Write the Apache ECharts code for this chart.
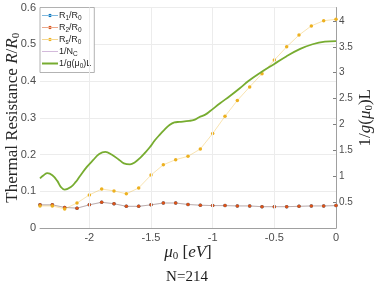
<!DOCTYPE html>
<html><head><meta charset="utf-8">
<script src="https://cdn.jsdelivr.net/npm/echarts@6/dist/echarts.min.js"></script>
<style>html,body{margin:0;padding:0;background:#fff}#c{width:374px;height:283px}</style>
</head><body><div id="c"></div>
<script>
// ---- data ----
const mu = [-2.4,-2.3,-2.2,-2.1,-2.0,-1.9,-1.8,-1.7,-1.6,-1.5,-1.4,-1.3,-1.2,-1.1,-1.0,-0.9,-0.8,-0.7,-0.6,-0.5,-0.4,-0.3,-0.2,-0.1,0];
const r2 = [0.063,0.063,0.056,0.054,0.063,0.070,0.066,0.059,0.059,0.063,0.068,0.068,0.064,0.062,0.061,0.061,0.060,0.060,0.058,0.058,0.058,0.059,0.060,0.060,0.061];
const r1 = [0.063,0.063,0.056,0.054,0.063,0.070,0.066,0.059,0.059,0.063,0.068,0.068,0.064,0.062,0.061,0.061,0.060,0.060,0.058,0.058,0.058,0.059,0.060,0.060,0.061];
const rs = [0.060,0.060,0.052,0.068,0.090,0.106,0.101,0.093,0.109,0.144,0.172,0.186,0.195,0.215,0.257,0.304,0.347,0.384,0.420,0.457,0.493,0.525,0.550,0.564,0.568];
const nc = [];
const gMu = [-2.4,-2.37,-2.34,-2.30,-2.26,-2.23,-2.20,-2.15,-2.11,-2.08,-2.02,-1.97,-1.92,-1.87,-1.82,-1.76,-1.72,-1.67,-1.63,-1.59,-1.55,-1.51,-1.47,-1.43,-1.39,-1.35,-1.31,-1.27,-1.19,-1.15,-1.11,-1.06,-1.02,-0.94,-0.86,-0.78,-0.71,-0.62,-0.50,-0.40,-0.29,-0.19,-0.09,0];
const gVal = [0.96,1.02,1.06,1.02,0.91,0.79,0.74,0.79,0.89,0.99,1.18,1.31,1.43,1.47,1.42,1.32,1.25,1.23,1.27,1.35,1.45,1.56,1.69,1.80,1.90,1.99,2.04,2.05,2.07,2.09,2.14,2.19,2.26,2.41,2.55,2.70,2.84,2.99,3.17,3.32,3.46,3.55,3.60,3.61];
const xTicks = [-2,-1.5,-1,-0.5,0];
const xGrid = [-2,-1.5,-1,-0.5];
const rightTicks = [0.5,1,1.5,2,2.5,3,3.5,4];

const pair = (xs, ys) => xs.map((x,i)=>[x, ys[i]]);
const sans = 'Liberation Sans';
const serif = 'Liberation Serif';
const subRich = {
  n:{fontFamily:sans,fontSize:9,color:'#262626'},
  s:{fontFamily:sans,fontSize:6.5,color:'#262626',verticalAlign:'bottom',padding:[5,0,0,0]}
};
const legNames = {
  'R1':'{n|R}{s|1}{n|/R}{s|0}',
  'R2':'{n|R}{s|2}{n|/R}{s|0}',
  'Rs':'{n|R}{s|s}{n|/R}{s|0}',
  'NC':'{n|1/N}{s|C}',
  'G':'{n|1/g(μ}{s|0}{n|)L}'
};
const iconDot = 'path://M0,0M16,10M0,4.7H16V5.3H0Z M6.3,5a1.7,1.7 0 1,0 3.4,0a1.7,1.7 0 1,0 -3.4,0Z';
const iconLine = 'path://M0,0M16,10M0,4.6H16V5.4H0Z';
const iconThick = 'path://M0,0M16,10M0,4H16V6H0Z';
const titleRich = {
  n:{fontFamily:serif,fontSize:17,color:'#262626'},
  i:{fontFamily:serif,fontStyle:'italic',fontSize:17,color:'#262626'},
  s:{fontFamily:serif,fontSize:11,color:'#262626',verticalAlign:'bottom',padding:[7,0,0,0]}
};

const chart = echarts.init(document.getElementById('c'), null, {renderer:'canvas'});
chart.setOption({
  animation:false,
  backgroundColor:'#fff',
  grid:{left:40,right:38,top:7.5,bottom:55,containLabel:false,outerBoundsMode:'none'},
  legend:{
    left:40, top:7.5, orient:'vertical', itemGap:1, itemWidth:16, itemHeight:10,
    backgroundColor:'#fff', borderColor:'#a0a0a0', borderWidth:0.8, borderRadius:0,
    padding:[3,3,3,2],
    data:[
      {name:'R1',icon:iconDot,itemStyle:{color:'#0072BD'}},
      {name:'R2',icon:iconDot,itemStyle:{color:'#D95319'}},
      {name:'Rs',icon:iconDot,itemStyle:{color:'#EDB120'}},
      {name:'NC',icon:iconLine,itemStyle:{color:'#c9a9d2'}},
      {name:'G',icon:iconThick,itemStyle:{color:'#77AC30'}}
    ],
    formatter: n => legNames[n],
    textStyle:{rich:subRich, padding:[0,0,0,-4]}
  },
  xAxis:[{
    type:'value', min:-2.4, max:0,
    axisLine:{show:false}, axisTick:{show:false}, splitLine:{show:false},
    axisLabel:{customValues:xTicks, fontFamily:sans, fontSize:11, color:'#4d4d4d', margin:4},
    name:'{i|μ}{s|0}{n| [}{i|eV}{n|]}',
    nameLocation:'middle', nameGap:16, nameMoveOverlap:false,
    nameTextStyle:{rich:titleRich}
  },{
    type:'value', min:-2.4, max:0, position:'top',
    axisLine:{show:true,lineStyle:{color:'#a0a0a0',width:1}},
    axisTick:{show:false}, axisLabel:{show:false}, splitLine:{show:false}
  }],
  yAxis:[{
    type:'value', min:0, max:0.6, interval:0.1,
    axisLine:{show:true,lineStyle:{color:'#a0a0a0',width:1}},
    axisTick:{show:false},
    splitLine:{show:true,lineStyle:{color:'#ececec',width:1}},
    axisLabel:{fontFamily:sans,fontSize:11,color:'#4d4d4d',margin:4},
    name:'{n|Thermal Resistance }{i|R}{n|/}{i|R}{s|0}',
    nameLocation:'middle', nameGap:18.5, nameRotate:90, nameMoveOverlap:false,
    nameTextStyle:{rich:titleRich}
  },{
    type:'value', min:0, max:4.26, position:'right',
    axisLine:{show:false},
    axisTick:{show:true,inside:true,length:3,customValues:rightTicks,lineStyle:{color:'#808080'}},
    splitLine:{show:false},
    axisLabel:{customValues:rightTicks,fontFamily:sans,fontSize:10,color:'#4d4d4d',margin:3},
    name:'{n|1/}{i|g}{n|(}{i|μ}{s|0}{n|)L}',
    nameLocation:'middle', nameGap:21, nameRotate:90, nameMoveOverlap:false,
    nameTextStyle:{rich:titleRich}
  }],
  series:[
    {name:'R1', type:'line', xAxisIndex:0, yAxisIndex:0, data:pair(mu,r1),
     symbol:'circle', symbolSize:3.5, itemStyle:{color:'#0072BD'},
     lineStyle:{color:'rgba(0,114,189,0.3)',width:1}, z:2,
     markLine:{silent:true,symbol:'none',label:{show:false},
       lineStyle:{color:'#ececec',width:1,type:'solid'},
       data:xGrid.map(v=>({xAxis:v}))}},
    {name:'R2', type:'line', xAxisIndex:0, yAxisIndex:0, data:pair(mu,r2),
     symbol:'circle', symbolSize:3.5, itemStyle:{color:'#D95319'},
     lineStyle:{color:'rgba(217,83,25,0.3)',width:1}, z:3},
    {name:'Rs', type:'line', xAxisIndex:0, yAxisIndex:0, data:pair(mu,rs),
     symbol:'circle', symbolSize:3.5, itemStyle:{color:'#EDB120'},
     lineStyle:{color:'rgba(237,177,32,0.35)',width:1}, z:4},
    {name:'NC', type:'line', xAxisIndex:0, yAxisIndex:0, data:nc,
     symbol:'none', itemStyle:{color:'#c9a9d2'}, lineStyle:{color:'#c9a9d2',width:1}},
    {name:'G', type:'line', xAxisIndex:0, yAxisIndex:1, data:pair(gMu,gVal),
     smooth:0.4, symbol:'none', itemStyle:{color:'#77AC30'},
     lineStyle:{color:'#77AC30',width:1.8}, z:5}
  ],
  graphic:[{
    type:'text', left:'center', top:270,
    style:{text:'N=214', font:'15px "Liberation Serif"', fill:'#1a1a1a'}
  }]
});
</script></body></html>
